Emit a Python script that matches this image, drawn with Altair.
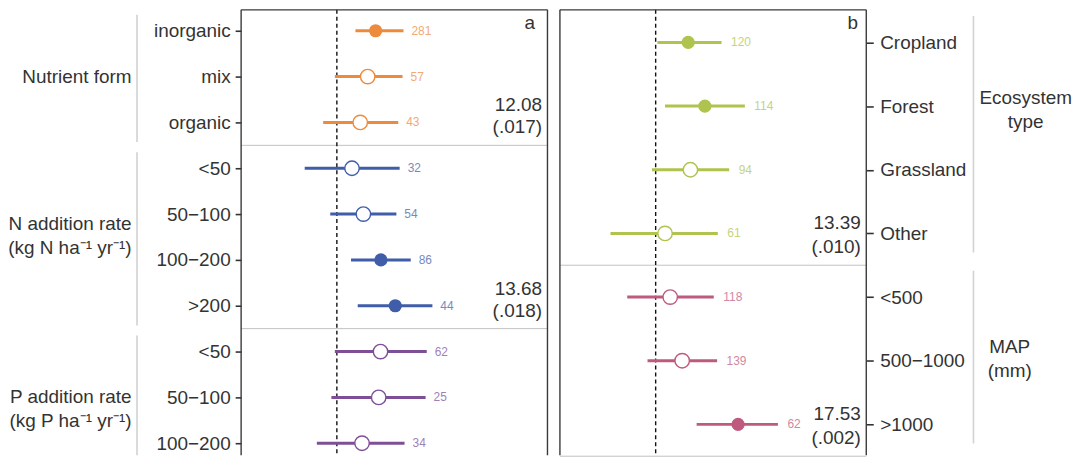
import json
import altair as alt
import pandas as pd

# ---------------- panel a data ----------------
a_labels = ["inorganic", "mix", "organic", "<50", "50−100", "100−200", ">200", "<50", "50−100", "100−200"]
a_groups = ["Nutrient form"] * 3 + ["N addition rate"] * 4 + ["P addition rate"] * 3
a_mean = [0.0405, 0.0322, 0.0244, 0.0158, 0.0277, 0.0460, 0.0610, 0.0456, 0.0437, 0.0263]
a_low = [0.0194, -0.0021, -0.0143, -0.0336, -0.0069, 0.0148, 0.0218, -0.0021, -0.0057, -0.0209]
a_high = [0.0696, 0.0686, 0.0641, 0.0656, 0.0622, 0.0772, 0.0998, 0.0939, 0.0927, 0.0707]
a_n = [281, 57, 43, 32, 54, 86, 44, 62, 25, 34]
a_sig = [True, False, False, False, False, True, True, False, False, False]
a_group_names = ["Nutrient form", "N addition rate", "P addition rate"]
a_group_titles = ["Nutrient form", "N addition rate\n(kg N ha⁻¹ yr⁻¹)", "P addition rate\n(kg P ha⁻¹ yr⁻¹)"]
a_group_title_row = [1.0, 4.485, 8.26]
a_q_text = ["12.08\n(.017)", "13.68\n(.018)"]
a_q_row = [2, 6]
a_colors = ["#EE8A3C", "#3F5DA8", "#7E4F97"]

# ---------------- panel b data ----------------
b_labels = ["Cropland", "Forest", "Grassland", "Other", "<500", "500−1000", ">1000"]
b_groups = ["Ecosystem type"] * 4 + ["MAP"] * 3
b_mean = [0.0340, 0.0514, 0.0363, 0.0098, 0.0152, 0.0277, 0.0861]
b_low = [0.0018, 0.0098, -0.0039, -0.0472, -0.0297, -0.0085, 0.0428]
b_high = [0.0688, 0.0932, 0.0768, 0.0649, 0.0607, 0.0642, 0.1277]
b_n = [120, 114, 94, 61, 118, 139, 62]
b_sig = [True, True, False, False, False, False, True]
b_group_names = ["Ecosystem type", "MAP"]
b_group_titles = ["Ecosystem\ntype", "MAP\n(mm)"]
b_group_title_row = [1.06, 4.97]
b_q_text = ["13.39\n(.010)", "17.53\n(.002)"]
b_q_row = [3, 6]
b_colors = ["#AFC34F", "#BE5A7E"]

X_DOMAIN = [-0.1, 0.22]

FONT = "Liberation Sans"
TXT = "#333333"
FRAME = "#3a3a3a"
W, H = 307.5, 447


def panel(labels, groups, mean, low, high, n, sig, gnames, gtitles, gtrow, qtxt, qrow, colors,
          row_px, top_px, orient, letter, letter_xy, q_dy, q_lh, title_x, title_align,
          bracket_x, bracket_pad, tick, lpad, ndx):
    d0 = -top_px / row_px
    d1 = d0 + H / row_px
    idx = list(range(len(labels)))
    df = pd.DataFrame(dict(idx=idx, label=labels, group=groups, mean=mean, low=low,
                           high=high, n=n, sig=sig))

    xscale = alt.Scale(domain=X_DOMAIN, nice=False, zero=False)
    yscale = alt.Scale(domain=[d0, d1], reverse=True, nice=False, zero=False)
    yaxis = alt.Axis(
        values=idx, labelExpr=json.dumps(labels, ensure_ascii=False) + "[datum.value]",
        orient=orient, domain=False, grid=False, ticks=True, tickSize=tick, tickWidth=1.6,
        tickColor=TXT, labelFont=FONT, labelFontSize=19, labelColor=TXT, labelPadding=lpad,
        title=None, labelOverlap=False, labelFlush=False,
    )

    def X(f):
        return alt.X(f, type="quantitative", scale=xscale, axis=None)

    def Y(f):
        return alt.Y(f, type="quantitative", scale=yscale, axis=yaxis)

    def XD(v):
        return alt.XDatum(datum=v, type="quantitative", scale=xscale, axis=None)

    def YD(v):
        return alt.YDatum(datum=v, type="quantitative", scale=yscale, axis=yaxis)

    color = alt.Color("group:N", scale=alt.Scale(domain=gnames, range=colors), legend=None)
    one = pd.DataFrame({"k": [0]})

    layers = []
    # separators between groups (only those inside the visible area)
    last_rows = [max(i for i, g in enumerate(groups) if g == gn) for gn in gnames]
    seps = [r + 0.5 for r in last_rows if r + 0.5 <= d1 + 0.05]
    layers.append(alt.Chart(pd.DataFrame({"sep": seps})).mark_rule(
        color="#c2c2c2", strokeWidth=1).encode(y=Y("sep")))
    # zero line
    layers.append(alt.Chart(one).mark_rule(color="#111111", strokeWidth=1.4, strokeDash=[4, 3]).encode(
        x=XD(0)))
    # CI
    layers.append(alt.Chart(df).mark_rule(strokeWidth=3).encode(
        x=X("low"), x2="high", y=Y("idx"), color=color))
    # filled points
    layers.append(alt.Chart(df).transform_filter("datum.sig").mark_point(
        shape="circle", filled=True, size=175, opacity=1).encode(
        x=X("mean"), y=Y("idx"), color=color))
    # open points
    layers.append(alt.Chart(df).transform_filter("!datum.sig").mark_point(
        shape="circle", filled=False, fill="white", size=210, strokeWidth=1.4, opacity=1).encode(
        x=X("mean"), y=Y("idx"), color=color))
    # n labels
    layers.append(alt.Chart(df).mark_text(
        align="left", baseline="middle", dx=ndx, fontSize=12, font=FONT, opacity=0.72).encode(
        x=X("high"), y=Y("idx"), text="n:Q", color=color))
    # Q statistics (two lines, block centred near the group's last row)
    layers.append(alt.Chart(pd.DataFrame({"q": qtxt, "qrow": qrow})).mark_text(
        align="right", baseline="middle", dy=q_dy - q_lh / 2, fontSize=19, font=FONT, color=TXT,
        lineBreak="\n", lineHeight=q_lh).encode(
        x=alt.value(W - 5.5), y=Y("qrow"), text="q:N"))
    # letter
    layers.append(alt.Chart(pd.DataFrame({"t": [letter]})).mark_text(
        align="center", baseline="middle", fontSize=19, font=FONT, color=TXT).encode(
        x=alt.value(letter_xy[0]), y=alt.value(letter_xy[1]), text="t:N"))
    # frame (left, right, top)
    layers.append(alt.Chart(one).mark_rule(color=FRAME, strokeWidth=1.4).encode(x=XD(X_DOMAIN[0])))
    layers.append(alt.Chart(one).mark_rule(color=FRAME, strokeWidth=1.4).encode(x=XD(X_DOMAIN[1])))
    layers.append(alt.Chart(one).mark_rule(color=FRAME, strokeWidth=1.4).encode(y=YD(d0)))
    # group brackets
    first_rows = [min(i for i, g in enumerate(groups) if g == gn) for gn in gnames]
    bs = [f - bracket_pad[0] for f in first_rows]
    be = [min(l + bracket_pad[1], d1) for l in last_rows]
    layers.append(alt.Chart(pd.DataFrame({"bs": bs, "be": be})).mark_rule(
        color="#d2d2d2", strokeWidth=1.6).encode(
        x=alt.value(bracket_x), y=Y("bs"), y2="be"))
    # group titles
    for gt, gr, tx in zip(gtitles, gtrow, title_x):
        nlines = gt.count("\n") + 1
        layers.append(alt.Chart(pd.DataFrame({"gt": [gt], "gr": [gr]})).mark_text(
            align=title_align, baseline="middle", fontSize=19, font=FONT, color=TXT,
            lineBreak="\n", lineHeight=24, dy=-(nlines - 1) * 12).encode(
            x=alt.value(tx), y=Y("gr"), text="gt:N"))

    return alt.layer(*layers).properties(width=W, height=H)


pa = panel(a_labels, a_groups, a_mean, a_low, a_high, a_n, a_sig, a_group_names, a_group_titles,
           a_group_title_row, a_q_text, a_q_row, a_colors,
           row_px=46, top_px=21, orient="left", letter="a", letter_xy=(289.7, 13.7),
           q_dy=-6, q_lh=22, title_x=[-110, -110, -110], title_align="right",
           bracket_x=-104.5, bracket_pad=(0.35, 0.43), tick=6, lpad=5, ndx=8)

pb = panel(b_labels, b_groups, b_mean, b_low, b_high, b_n, b_sig, b_group_names, b_group_titles,
           b_group_title_row, b_q_text, b_q_row, b_colors,
           row_px=63.9, top_px=32.7, orient="right", letter="b", letter_xy=(294, 13.7),
           q_dy=2, q_lh=24, title_x=[W + 160, W + 144], title_align="center",
           bracket_x=415.1, bracket_pad=(0.415, 0.3), tick=7, lpad=6.5, ndx=9.5)

chart = alt.hconcat(pa, pb, spacing=10).resolve_scale(color="independent").properties(
    padding=0, background="white"
).configure_view(strokeWidth=0)

chart.save("out.html", embed_options={"renderer": "svg", "actions": False})
